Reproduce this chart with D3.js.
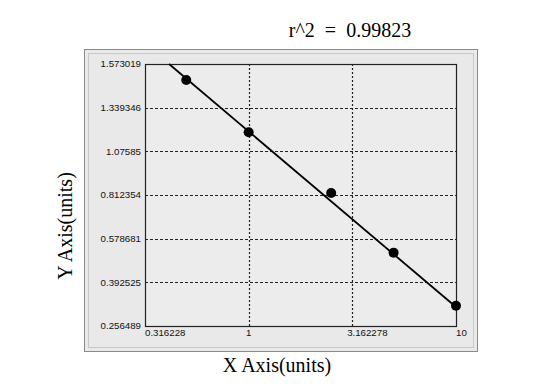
<!DOCTYPE html>
<html>
<head>
<meta charset="utf-8">
<script src="https://cdn.jsdelivr.net/npm/d3@7"></script>
<style>
  body { margin: 0; background: #fff; }
  svg { display: block; }
</style>
</head>
<body>
<script>
// standard curve values
var concentrations = [0.5, 1, 2.5, 5, 10];
var responses = [1.4875, 1.191, 0.8242, 0.5191, 0.3196];
var fitX = [0.413, 10];
var fitY = [1.573019, 0.3155];
var xTicks = [0.316228, 1, 3.162278, 10];
var xTickLabels = ["0.316228", "1", "3.162278", "10"];
var yTicks = [0.256489, 0.392525, 0.578681, 0.812354, 1.07585, 1.339346, 1.573019];
var yTickLabels = ["0.256489", "0.392525", "0.578681", "0.812354", "1.07585", "1.339346", "1.573019"];
var title = "r^2  =  0.99823";

(function() {
    var width = 558, height = 392;
    var plot = { left: 145, right: 456, top: 64, bottom: 326 };
    var step = (plot.bottom - plot.top) / (yTicks.length - 1);

    var svg = d3.select("body").append("svg")
        .attr("width", width)
        .attr("height", height);

    // grey panel with bevel
    svg.append("rect")
        .attr("x", 84.5).attr("y", 49.5)
        .attr("width", 393).attr("height", 302)
        .style("fill", "#e9e9e9")
        .style("stroke", "#8a8a8a");
    svg.append("rect")
        .attr("x", 88.5).attr("y", 53.5)
        .attr("width", 385).attr("height", 294)
        .style("fill", "none")
        .style("stroke", "#c8c8c8");

    var x = d3.scaleLog()
        .domain([xTicks[0], xTicks[xTicks.length - 1]])
        .range([plot.left, plot.right]);

    // y axis ticks are evenly spaced, so map them piecewise
    var y = d3.scaleLinear()
        .domain(yTicks)
        .range(yTicks.map(function(d, i) { return plot.bottom - i * step; }));

    svg.append("rect")
        .attr("x", plot.left).attr("y", plot.top)
        .attr("width", plot.right - plot.left)
        .attr("height", plot.bottom - plot.top)
        .style("fill", "#ececec");

    // grid
    svg.selectAll(".hgrid")
        .data(yTicks.slice(1, -1))
        .enter()
        .append("line")
        .attr("class", "hgrid")
        .attr("x1", plot.left).attr("x2", plot.right)
        .attr("y1", function(d) { return Math.round(y(d)) + 0.5; })
        .attr("y2", function(d) { return Math.round(y(d)) + 0.5; })
        .style("stroke", "#222")
        .style("stroke-width", 1.2)
        .style("stroke-dasharray", "3,2");

    svg.selectAll(".vgrid")
        .data(xTicks.slice(1, -1))
        .enter()
        .append("line")
        .attr("class", "vgrid")
        .attr("y1", plot.top).attr("y2", plot.bottom)
        .attr("x1", function(d) { return Math.round(x(d)) + 0.5; })
        .attr("x2", function(d) { return Math.round(x(d)) + 0.5; })
        .style("stroke", "#222")
        .style("stroke-width", 1.2)
        .style("stroke-dasharray", "2,2");

    // plot frame
    svg.append("rect")
        .attr("x", plot.left + 0.5).attr("y", plot.top + 0.5)
        .attr("width", plot.right - plot.left)
        .attr("height", plot.bottom - plot.top)
        .style("fill", "none")
        .style("stroke", "#222")
        .style("stroke-width", 1.2);

    // tick labels
    svg.selectAll(".ylab")
        .data(yTicks)
        .enter()
        .append("text")
        .attr("class", "ylab")
        .attr("x", plot.left - 4)
        .attr("y", function(d) { return y(d); })
        .attr("dy", "0.35em")
        .attr("text-anchor", "end")
        .style("font-family", "Liberation Sans, Arial, sans-serif")
        .style("font-size", "9.7px")
        .style("fill", "#111")
        .text(function(d, i) { return yTickLabels[i]; });

    svg.selectAll(".xlab")
        .data(xTicks)
        .enter()
        .append("text")
        .attr("class", "xlab")
        .attr("x", function(d) { return x(d); })
        .attr("y", plot.bottom + 10)
        .attr("text-anchor", function(d, i) { return i === 0 || i === xTicks.length - 1 ? "start" : "middle"; })
        .attr("dx", function(d, i) { return i === 2 ? 15 : 0; })
        .style("font-family", "Liberation Sans, Arial, sans-serif")
        .style("font-size", "9.7px")
        .style("fill", "#111")
        .text(function(d, i) { return xTickLabels[i]; });

    // fitted line
    var fit = fitX.map(function(d, i) { return [d, fitY[i]]; });
    svg.append("path")
        .datum(fit)
        .attr("d", d3.line()
            .x(function(d) { return x(d[0]); })
            .y(function(d) { return y(d[1]); }))
        .style("fill", "none")
        .style("stroke", "#000")
        .style("stroke-width", 1.8);

    svg.selectAll(".pt")
        .data(concentrations)
        .enter()
        .append("circle")
        .attr("class", "pt")
        .attr("cx", function(d) { return x(d); })
        .attr("cy", function(d, i) { return y(responses[i]); })
        .attr("r", 5)
        .style("fill", "#000");

    // titles
    svg.append("text")
        .attr("x", 350).attr("y", 37)
        .attr("text-anchor", "middle")
        .style("font-family", "Liberation Serif, Times New Roman, serif")
        .style("font-size", "20px")
        .style("white-space", "pre")
        .text(title);

    svg.append("text")
        .attr("x", 277).attr("y", 372)
        .attr("text-anchor", "middle")
        .style("font-family", "Liberation Serif, Times New Roman, serif")
        .style("font-size", "20px")
        .text("X Axis(units)");

    svg.append("text")
        .attr("transform", "translate(72,226) rotate(-90)")
        .attr("text-anchor", "middle")
        .style("font-family", "Liberation Serif, Times New Roman, serif")
        .style("font-size", "20px")
        .text("Y Axis(units)");
})();
</script>
</body>
</html>
